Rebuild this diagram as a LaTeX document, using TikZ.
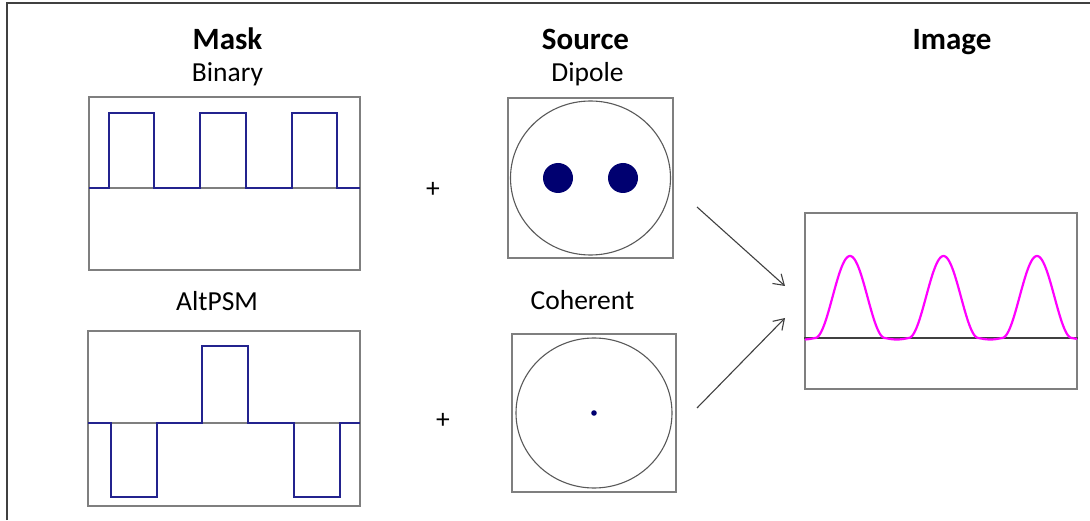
\documentclass[tikz,border=0pt]{standalone}
\usepackage{fontspec}
\setmainfont{Carlito}
\usetikzlibrary{arrows.meta}
\definecolor{boxgray}{HTML}{7F7F7F}
\definecolor{linegray}{HTML}{404040}
\definecolor{wavenavy}{HTML}{23238E}
\definecolor{dotnavy}{HTML}{000070}
\definecolor{peakmag}{HTML}{FF00FF}
\tikzstyle{panel} = [draw=boxgray, line width=1.5pt, rectangle, inner sep=0pt]
\tikzstyle{title} = [font=\fontsize{31}{36}\selectfont\bfseries, text height=22pt, text depth=7pt]
\tikzstyle{subtitle} = [font=\fontsize{27.5}{32}\selectfont, text height=20pt, text depth=6pt]
\tikzstyle{wave} = [draw=wavenavy, line width=2.4pt]
\tikzstyle{axis} = [draw=boxgray, line width=1.2pt]
\tikzstyle{pupil} = [draw=black!65, line width=1.1pt]
\tikzstyle{input} = [coordinate]

\begin{document}
\begin{tikzpicture}[x=1pt, y=1pt, node distance=100pt,
    >={Straight Barb[length=10pt,width=13pt]},
    declare function={uu(\t)=\t-93.5*round(\t/93.5);
      prof(\u)=ifthenelse(abs(\u)<35, 82*cos(180*\u/70)*cos(180*\u/70), -1.5*sin(180*(abs(\u)-35)/23.5));}]
\useasboundingbox (0,0) rectangle (1090,520);
% Frame
	\draw [linegray, line width=1.5pt] (7,0) -- (7,517) -- (1090,517);
% Mask column
	\node [panel, minimum width=271pt, minimum height=173pt] (binbox) at (224.5,336.5) {};
	\node [subtitle, above of=binbox, node distance=108.5pt, xshift=3pt] (binlab) {Binary};
	\node [title, above of=binlab, node distance=32.5pt] (masklab) {Mask};
	\draw [axis] (binbox.west |- 0,332) -- (binbox.east |- 0,332);
	\draw [wave] (89,332) -- (109,332) -- (109,407) -- (154,407) -- (154,332)
		-- (200,332) -- (200,407) -- (246,407) -- (246,332)
		-- (292,332) -- (292,407) -- (337,407) -- (337,332) -- (360,332);
	\node [panel, minimum width=272pt, minimum height=175pt] (altbox) at (224,101.5) {};
	\node [subtitle, above of=altbox, node distance=114.5pt, xshift=-7pt] (altlab) {AltPSM};
	\draw [axis] (altbox.west |- 0,97) -- (altbox.east |- 0,97);
	\draw [wave] (88,97) -- (111,97) -- (111,23) -- (157,23) -- (157,97)
		-- (202,97) -- (202,174) -- (248,174) -- (248,97)
		-- (294,97) -- (294,23) -- (340,23) -- (340,97) -- (360,97);
% Plus signs
	\node [subtitle, text height=, text depth=] (plus1) at (433,330) {+};
	\node [subtitle, text height=, text depth=] (plus2) at (443,99) {+};
% Source column
	\node [panel, minimum width=165pt, minimum height=160pt] (dipbox) at (590.5,342) {};
	\node [subtitle, above of=dipbox, node distance=103pt, xshift=-3pt] (diplab) {Dipole};
	\node [title, above of=diplab, node distance=32.5pt, xshift=-2pt] (srclab) {Source};
	\draw [pupil] (dipbox.center) ellipse (80pt and 77pt);
	\fill [dotnavy] ([xshift=-32.5pt]dipbox.center) circle (15pt);
	\fill [dotnavy] ([xshift=32.5pt]dipbox.center) circle (15pt);
	\node [panel, minimum width=164pt, minimum height=158pt] (cohbox) at (594,107) {};
	\node [subtitle, above of=cohbox, node distance=110pt, xshift=-11.5pt] (cohlab) {Coherent};
	\draw [pupil] (cohbox.center) ellipse (78pt and 75pt);
	\fill [dotnavy] (cohbox.center) circle (2.8pt);
% Image column
	\node [panel, minimum width=272pt, minimum height=176pt] (imgbox) at (941,219) {};
	\node [title, above of=imgbox, node distance=258.5pt, xshift=11pt] (imglab) {Image};
	\draw [linegray, line width=1.2pt] (imgbox.west |- 0,182) -- (imgbox.east |- 0,182);
	\draw [peakmag, line width=2.2pt] plot [domain=805:1077, samples=300] ({\x},{182+prof(uu(\x-850))});
% Arrows into image
	\node [input] (dipout) at (697,313) {};
	\node [input] (cohout) at (697,112) {};
	\node [input] (imgin1) at (785,234) {};
	\node [input] (imgin2) at (785,202) {};
	\draw [->, linegray, line width=1.1pt] (dipout) -- (imgin1);
	\draw [->, linegray, line width=1.1pt] (cohout) -- (imgin2);
\end{tikzpicture}
\end{document}
